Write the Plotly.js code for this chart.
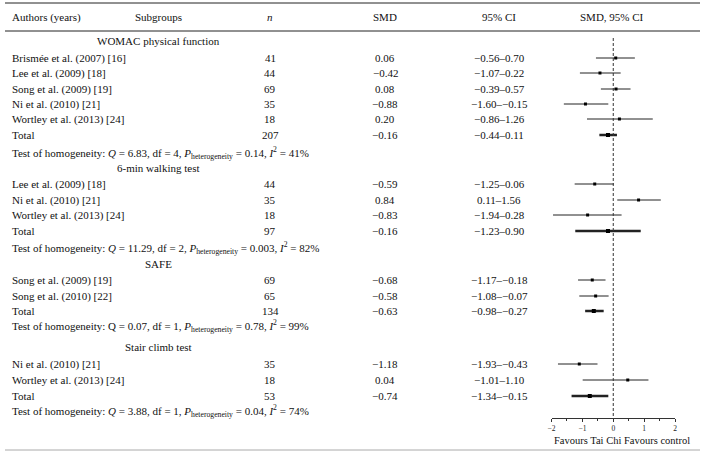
<!DOCTYPE html>
<html>
<head>
<meta charset="utf-8">
<script src="https://cdn.plot.ly/plotly-3.0.1.min.js"></script>
<style>html,body{margin:0;padding:0;background:#fff;}#chart{width:704px;height:457px;}</style>
</head>
<body>
<div id="chart"></div>
<script>
// ---- data ----
const headers = ["Authors (years)", "Subgroups", "n", "SMD", "95% CI", "SMD, 95% CI"];
const subgroupNames = ["WOMAC physical function", "6-min walking test", "SAFE", "Stair climb test"];
const rowLabel = ["Brismée et al. (2007) [16]", "Lee et al. (2009) [18]", "Song et al. (2009) [19]", "Ni et al. (2010) [21]", "Wortley et al. (2013) [24]", "Total",
  "Lee et al. (2009) [18]", "Ni et al. (2010) [21]", "Wortley et al. (2013) [24]", "Total",
  "Song et al. (2009) [19]", "Song et al. (2010) [22]", "Total",
  "Ni et al. (2010) [21]", "Wortley et al. (2013) [24]", "Total"];
const rowGroup = [0,0,0,0,0,0, 1,1,1,1, 2,2,2, 3,3,3];
const nVals = [41,44,69,35,18,207, 44,35,18,97, 69,65,134, 35,18,53];
const smdText = ["0.06","−0.42","0.08","−0.88","0.20","−0.16", "−0.59","0.84","−0.83","−0.16", "−0.68","−0.58","−0.63", "−1.18","0.04","−0.74"];
const ciText = ["−0.56–0.70","−1.07–0.22","−0.39–0.57","−1.60–−0.15","−0.86–1.26","−0.44–0.11",
  "−1.25–0.06","0.11–1.56","−1.94–0.28","−1.23–0.90",
  "−1.17–−0.18","−1.08–−0.07","−0.98–−0.27",
  "−1.93–−0.43","−1.01–1.10","−1.34–−0.15"];
const smdPlot = [0.08,-0.43,0.09,-0.90,0.20,-0.17, -0.60,0.82,-0.83,-0.17, -0.68,-0.57,-0.63, -1.10,0.47,-0.76];
const loPlot  = [-0.56,-1.08,-0.40,-1.60,-0.85,-0.45, -1.25,0.13,-1.95,-1.23, -1.14,-1.10,-0.91, -1.79,-0.99,-1.35];
const hiPlot  = [0.70,0.24,0.56,-0.16,1.28,0.12, 0.02,1.54,0.27,0.89, -0.25,-0.15,-0.31, -0.51,1.14,-0.16];
const hetQ  = ["6.83","11.29","0.07","3.88"];
const hetDf = ["4","2","1","1"];
const hetP  = ["0.14","0.003","0.78","0.04"];
const hetI2 = ["41%","82%","99%","74%"];
const tickVals = [-2,-1,0,1,2];
const xTitle = "Favours Tai Chi Favours control";

// ---- layout positions (pixels) ----
const W = 704, H = 457;
const rowY = [58,73,89,104,119,135, 184,200,215,231, 280,296,311, 364,380,396];
const groupY = [41,168,264,347];
const hetYpos = [153,248,326,411];
const headerY = 17;
const colX = {author:10, group:158, n:270, smd:385, ci:499, plot:612};
const FONT = "Liberation Serif, Times New Roman, serif";
const px = v => v / W;

const isTotal = rowLabel.map(l => l === "Total");
const ann = [];
function addText(x, y, text, anchor, size) {
  ann.push({xref:'paper', yref:'y', x:px(x), y:y, text:text, showarrow:false,
    xanchor:anchor, yanchor:'middle', font:{family:FONT, size:size||11, color:'#111'}});
}
// headers
addText(colX.author, headerY, headers[0], 'left');
addText(colX.group, headerY, headers[1], 'center');
addText(colX.n, headerY, '<i>' + headers[2] + '</i>', 'center');
addText(colX.smd, headerY, headers[3], 'center');
addText(colX.ci, headerY, headers[4], 'center');
addText(colX.plot, headerY, headers[5], 'center');
// groups
subgroupNames.forEach((g, i) => addText(colX.group, groupY[i], g, 'center'));
// rows
rowLabel.forEach((l, i) => {
  addText(colX.author, rowY[i], l, 'left');
  addText(colX.n, rowY[i], String(nVals[i]), 'center');
  addText(colX.smd, rowY[i], smdText[i], 'center');
  addText(colX.ci, rowY[i], ciText[i], 'center');
});
// heterogeneity
hetQ.forEach((q, i) => {
  const qs = i === 2 ? 'Q' : '<i>Q</i>';
  addText(colX.author, hetYpos[i],
    'Test of homogeneity: ' + qs + ' = ' + q + ', df = ' + hetDf[i] + ', <i>P</i><sub>heterogeneity</sub> = ' + hetP[i] + ', <i>I</i><sup>2</sup> = ' + hetI2[i], 'left');
});
// x title
addText(552, 440.5, xTitle, 'left', 10.5);

function traceFor(mask, thick, msize) {
  const idx = rowLabel.map((_, i) => i).filter(i => mask[i]);
  return {
    type:'scatter', mode:'markers', xaxis:'x', yaxis:'y',
    x: idx.map(i => smdPlot[i]), y: idx.map(i => rowY[i]),
    marker:{symbol:'square', size:msize, color:'#000'},
    error_x:{type:'data', symmetric:false, array: idx.map(i => hiPlot[i]-smdPlot[i]),
      arrayminus: idx.map(i => smdPlot[i]-loPlot[i]), width:0, thickness:thick, color:'#222'},
    hoverinfo:'skip', cliponaxis:false
  };
}
const traces = [traceFor(isTotal.map(t => !t), 1, 3), traceFor(isTotal, 2.6, 4)];

const layout = {
  width:W, height:H, margin:{l:0,r:0,t:0,b:0}, paper_bgcolor:'#fff', plot_bgcolor:'rgba(0,0,0,0)',
  showlegend:false,
  xaxis:{domain:[px(551.5), px(675)], range:[-2,2], anchor:'free', position:(H-417.5)/H,
    showline:true, linecolor:'#333', linewidth:1, showgrid:false, zeroline:false,
    tickvals:tickVals, ticks:'outside', ticklen:3, tickcolor:'#333', ticklabelstandoff:0,
    minor:{dtick:0.5, ticks:'outside', ticklen:2, tickcolor:'#333', showgrid:false},
    tickfont:{family:FONT, size:7.5, color:'#222'}, fixedrange:true},
  yaxis:{domain:[0,1], range:[H,0], visible:false, fixedrange:true},
  annotations:ann,
  shapes:[
    {type:'line', xref:'paper', yref:'y', x0:px(5), x1:px(700), y0:3, y1:3, line:{color:'#222', width:1}},
    {type:'line', xref:'paper', yref:'y', x0:px(5), x1:px(700), y0:31, y1:31, line:{color:'#222', width:1}},
    {type:'line', xref:'paper', yref:'y', x0:px(5), x1:px(700), y0:450, y1:450, line:{color:'#aaa', width:1}},
    {type:'line', xref:'x', yref:'y', x0:0, x1:0, y0:38, y1:417, line:{color:'#333', width:1, dash:'3px,2px'}}
  ]
};
Plotly.newPlot('chart', traces, layout, {staticPlot:true, displayModeBar:false});
</script>
</body>
</html>
